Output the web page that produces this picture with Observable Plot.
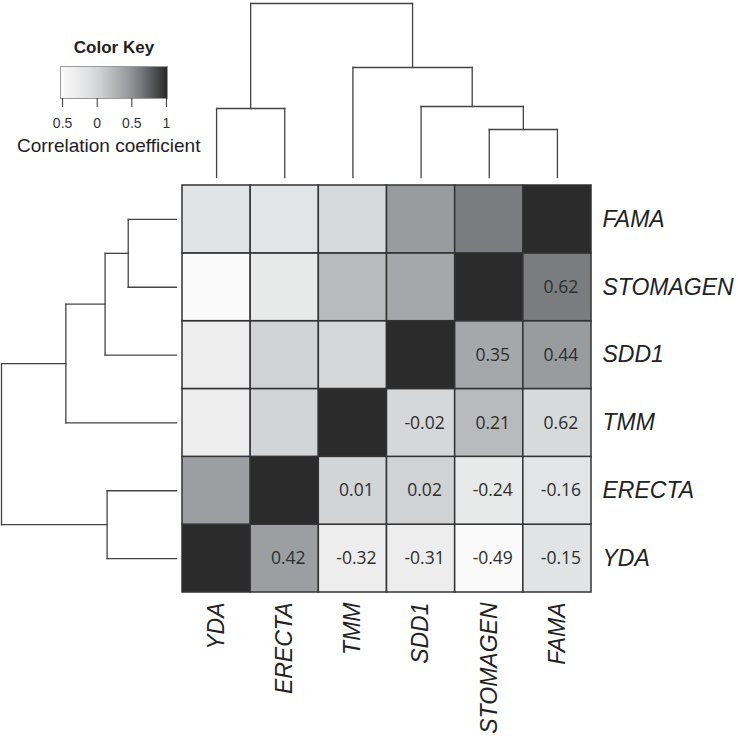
<!DOCTYPE html>
<html>
<head>
<meta charset="utf-8">
<script src="https://cdn.jsdelivr.net/npm/d3@7"></script>
<script src="https://cdn.jsdelivr.net/npm/@observablehq/plot@0.6"></script>
<style>
html, body { margin: 0; padding: 0; background: #fff; }
#chart { position: relative; width: 738px; height: 736px; overflow: hidden; font-family: "Liberation Sans", Arial, sans-serif; }
#chart > svg, #chart > div { position: absolute; left: 0; top: 0; }
.ital g[aria-label$="tick label"] text { font-style: italic; }
.keytitle { font-weight: bold; font-size: 17px; line-height: 17px; color: #222; text-align: center; width: 120px; }
.keylabel { font-size: 19px; line-height: 19px; color: #222; white-space: nowrap; }
</style>
</head>
<body>
<div id="chart"></div>
<script>
// Column order (left to right) and row order (top to bottom)
const genes = ["YDA", "ERECTA", "TMM", "SDD1", "STOMAGEN", "FAMA"];
const rowOrder = ["FAMA", "STOMAGEN", "SDD1", "TMM", "ERECTA", "YDA"];

// Correlation values (as shaded), in gene order
const corr = [
  [1, 0.42, -0.32, -0.31, -0.49, -0.15],
  [0.42, 1, 0.01, 0.02, -0.24, -0.16],
  [-0.32, 0.01, 1, -0.02, 0.21, -0.04],
  [-0.31, 0.02, -0.02, 1, 0.35, 0.44],
  [-0.49, -0.24, 0.21, 0.35, 1, 0.62],
  [-0.15, -0.16, -0.04, 0.44, 0.62, 1]
];

// Printed numbers (lower triangle of the display), row gene x column gene
const printed = [
  ["", "0.42", "-0.32", "-0.31", "-0.49", "-0.15"],
  ["", "", "0.01", "0.02", "-0.24", "-0.16"],
  ["", "", "", "-0.02", "0.21", "0.62"],
  ["", "", "", "", "0.35", "0.44"],
  ["", "", "", "", "", "0.62"],
  ["", "", "", "", "", ""]
];

// Hierarchical clustering merges (a, b = gene name or earlier merge index), h = height
const merges = [
  {a: "STOMAGEN", b: "FAMA", h: 0.48},
  {a: "SDD1", b: 0, h: 0.71},
  {a: "TMM", b: 1, h: 1.10},
  {a: "YDA", b: "ERECTA", h: 0.69},
  {a: 3, b: 2, h: 1.74}
];

// Color key
const keyTicks = [-0.5, 0, 0.5, 1];
const keyTickLabels = ["0.5", "0", "0.5", "1"];
const keyDomain = [-0.53, 1.015];
const colorStops = [-0.55, -0.49, -0.3, -0.16, 0, 0.21, 0.42, 0.62, 1];
const colorGrays = ["#ffffff", "#fafafa", "#ebeceb", "#e3e4e6", "#d4d5d7", "#b9babc", "#9d9ea1", "#7b7c80", "#2b2b2b"];

const cells = [];
genes.forEach((r, i) => genes.forEach((c, j) => cells.push({row: r, col: c, value: corr[i][j], label: printed[i][j]})));

function dendroSegments(order) {
  const leaf = {};
  order.forEach((g, i) => (leaf[g] = {p: i + 0.5, h: 0}));
  const nodes = [];
  const segs = [];
  merges.forEach((m, k) => {
    const A = typeof m.a === "number" ? nodes[m.a] : leaf[m.a];
    const B = typeof m.b === "number" ? nodes[m.b] : leaf[m.b];
    segs.push({p1: A.p, h1: A.h, p2: A.p, h2: m.h});
    segs.push({p1: B.p, h1: B.h, p2: B.p, h2: m.h});
    segs.push({p1: A.p, h1: m.h, p2: B.p, h2: m.h});
    nodes[k] = {p: (A.p + B.p) / 2, h: m.h};
  });
  return segs;
}

const color = {type: "linear", domain: colorStops, range: colorGrays, clamp: true};
const svgStyle = {background: "transparent", overflow: "visible"};
const maxH = d3.max(merges, d => d.h);

const heat = Plot.plot({
  width: 738, height: 736,
  marginLeft: 182, marginRight: 147, marginTop: 185, marginBottom: 144,
  className: "ital",
  style: {...svgStyle, fontFamily: "Liberation Sans", color: "#222"},
  x: {domain: genes, padding: 0, round: false},
  y: {domain: rowOrder, padding: 0, round: false},
  color,
  marks: [
    Plot.cell(cells, {x: "col", y: "row", fill: "value", stroke: "#333", strokeWidth: 1.5, inset: 0}),
    Plot.text(cells.filter(d => d.label), {x: "col", y: "row", text: "label", fontSize: 17.5, fontFamily: "Open Sans", fill: "#2e2e2e", dx: 3.5}),
    Plot.axisX({anchor: "bottom", tickSize: 0, tickPadding: 10, tickRotate: -90, fontSize: 23, fontStyle: "italic", label: null}),
    Plot.axisY({anchor: "right", tickSize: 0, tickPadding: 11, fontSize: 23, fontStyle: "italic", label: null})
  ]
});

const topPlot = Plot.plot({
  width: 738, height: 180,
  marginLeft: 182, marginRight: 147, marginTop: 3, marginBottom: 3,
  style: svgStyle,
  x: {domain: [0, genes.length], axis: null},
  y: {domain: [0, maxH], axis: null},
  marks: [
    Plot.link(dendroSegments(genes), {x1: "p1", y1: "h1", x2: "p2", y2: "h2", stroke: "#444", strokeWidth: 1.3, strokeLinecap: "square"})
  ]
});

const leftPlot = Plot.plot({
  width: 182, height: 736,
  marginLeft: 1, marginRight: 6, marginTop: 185, marginBottom: 144,
  style: svgStyle,
  x: {domain: [0, maxH], reverse: true, axis: null},
  y: {domain: [0, rowOrder.length], reverse: true, axis: null},
  marks: [
    Plot.link(dendroSegments(rowOrder), {x1: "h1", y1: "p1", x2: "h2", y2: "p2", stroke: "#444", strokeWidth: 1.3, strokeLinecap: "square"})
  ]
});

const keyPlot = Plot.plot({
  width: 230, height: 170,
  marginLeft: 60, marginRight: 63, marginTop: 66, marginBottom: 72,
  style: {...svgStyle, fontFamily: "Liberation Sans", color: "#333"},
  x: {domain: keyDomain},
  y: {domain: [0, 1], axis: null},
  color,
  marks: [
    Plot.raster({fill: (x, y) => x, x1: keyDomain[0], x2: keyDomain[1], y1: 0, y2: 1}),
    Plot.frame({stroke: "#999"}),
    Plot.axisX({ticks: keyTicks, tickFormat: d => keyTickLabels[keyTicks.indexOf(d)], tickSize: 9, tickPadding: 11, fontSize: 14, label: null})
  ]
});

const chart = document.getElementById("chart");
chart.append(heat, topPlot, leftPlot, keyPlot);

const title = document.createElement("div");
title.className = "keytitle";
title.textContent = "Color Key";
title.style.left = "54px";
title.style.top = "39px";
chart.append(title);

const keyLabel = document.createElement("div");
keyLabel.className = "keylabel";
keyLabel.textContent = "Correlation coefficient";
keyLabel.style.left = "17px";
keyLabel.style.top = "136px";
chart.append(keyLabel);
</script>
</body>
</html>
